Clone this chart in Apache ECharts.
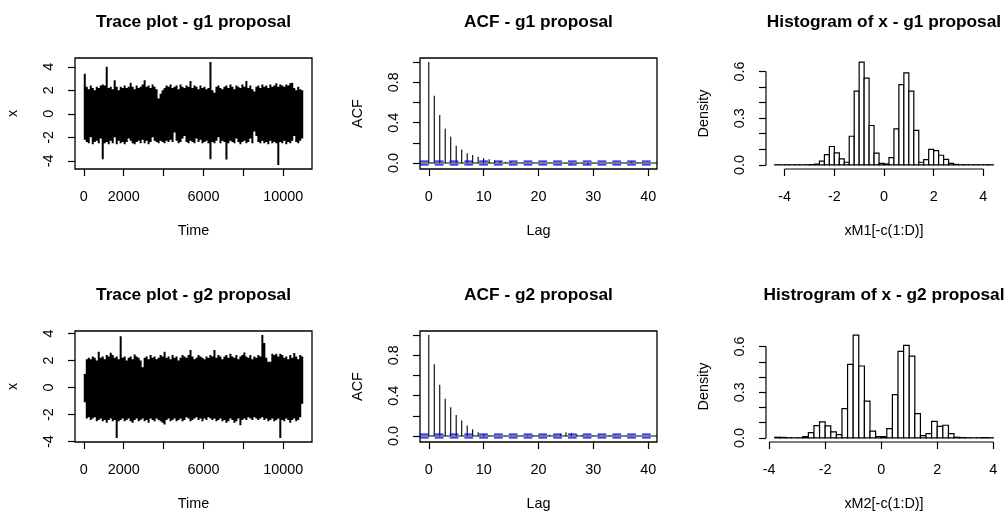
<!DOCTYPE html>
<html><head><meta charset="utf-8">
<script src="https://cdn.jsdelivr.net/npm/echarts@6/dist/echarts.min.js"></script>
<style>html,body{margin:0;padding:0;background:#fff}#c{width:1008px;height:513px}</style>
</head><body><div id="c"></div>
<script>
// ---------- data ----------
const N = 11000;          // chain length (Time 1..N)
const traceStep = 100;    // each envelope sample covers 100 iterations
// upper / lower envelope of the g1 trace, one pair per 100 iterations
const hi1 = [
 3.4,2.3,2.1,2.4,2.2,2.0,2.3,2.2,2.4,2.5,
 2.4,4.0,2.2,2.3,2.1,2.85,2.3,2.0,2.3,2.2,
 2.4,2.2,2.3,2.65,2.3,2.1,2.4,2.2,2.3,2.5,
 2.85,2.3,2.4,2.2,2.5,2.3,2.1,1.3,1.7,2.0,
 2.2,2.4,2.3,2.5,2.2,2.3,2.4,2.1,2.5,2.3,
 2.2,2.4,2.3,2.8,2.2,2.4,2.3,2.1,2.4,2.2,
 2.3,2.1,2.2,4.4,2.0,1.8,2.3,2.4,2.2,2.1,
 2.3,2.4,2.2,2.5,2.3,2.1,2.4,2.3,2.2,2.5,
 2.3,2.8,2.2,2.4,2.1,1.9,2.3,2.4,2.2,2.5,
 2.3,2.4,2.2,2.5,2.3,2.4,2.6,2.3,2.5,2.4,
 2.3,2.5,2.4,2.6,2.65,2.2,2.0,2.3,2.1,2.0];
const lo1 = [
 -2.2,-2.4,-2.5,-2.0,-2.6,-2.4,-2.3,-2.5,-2.1,-3.86,
 -2.5,-2.4,-2.6,-2.3,-2.5,-2.0,-2.6,-2.3,-2.5,-2.4,
 -2.6,-2.4,-2.1,-2.3,-2.5,-2.6,-2.4,-2.3,-2.5,-2.2,
 -2.5,-2.3,-2.6,-2.4,-2.0,-2.3,-2.4,-2.5,-2.3,-2.4,
 -2.5,-2.3,-2.4,-2.2,-2.4,-1.6,-2.3,-2.5,-2.4,-2.1,
 -1.9,-2.4,-2.5,-2.3,-2.4,-2.5,-2.1,-2.4,-2.2,-2.5,
 -2.4,-2.3,-2.5,-3.86,-2.4,-2.5,-2.3,-2.0,-2.5,-2.3,
 -2.4,-3.9,-2.5,-2.3,-2.4,-2.5,-2.1,-2.4,-2.6,-2.4,
 -2.3,-2.5,-2.4,-2.1,-2.5,-1.5,-1.9,-2.4,-2.5,-2.3,
 -2.5,-2.4,-2.6,-2.3,-2.5,-2.4,-2.5,-4.35,-2.4,-2.5,
 -2.3,-2.6,-2.4,-2.5,-2.3,-1.9,-2.4,-2.5,-2.3,-2.1];
// upper / lower envelope of the g2 trace
const hi2 = [
 1.0,2.1,2.2,2.1,2.3,2.2,2.0,2.64,2.2,2.3,
 2.1,2.4,2.3,2.57,2.4,2.2,2.3,2.1,3.8,2.2,
 2.3,2.0,2.2,2.3,2.1,2.45,2.3,2.2,2.0,1.5,
 2.2,2.3,2.1,2.4,2.2,2.3,2.1,2.2,2.4,2.3,
 2.64,2.2,2.3,2.1,2.4,2.2,2.3,2.0,2.2,2.4,
 2.3,2.2,2.4,2.77,2.3,2.1,2.2,2.4,2.3,2.2,
 2.1,2.3,2.2,2.4,2.3,2.77,2.2,2.4,2.3,2.1,
 2.3,2.4,2.2,2.5,2.3,2.2,2.4,2.1,2.3,2.4,
 2.6,2.3,2.2,2.4,2.1,2.3,2.2,2.4,2.3,3.88,
 3.3,2.2,1.9,1.9,2.5,2.4,2.5,2.3,2.5,2.4,
 2.2,2.3,2.1,2.4,2.2,2.55,2.3,2.1,2.4,2.3];
const lo2 = [
 -1.1,-2.3,-2.2,-2.4,-2.3,-2.2,-2.5,-2.4,-2.3,-2.5,
 -2.4,-2.6,-2.4,-2.3,-2.5,-2.4,-3.73,-2.5,-2.4,-2.3,
 -2.5,-2.4,-2.3,-2.5,-2.6,-2.4,-2.3,-2.5,-2.4,-2.3,
 -2.5,-2.4,-2.6,-2.3,-2.4,-2.5,-2.3,-2.4,-2.5,-2.6,
 -2.74,-2.4,-2.3,-2.5,-2.4,-2.3,-2.5,-2.4,-2.3,-2.5,
 -2.4,-2.2,-2.3,-2.5,-2.4,-2.3,-2.2,-2.4,-2.3,-2.5,
 -2.3,-2.4,-2.2,-2.3,-2.4,-2.3,-2.5,-2.4,-2.3,-2.5,
 -2.4,-2.6,-2.5,-2.3,-2.4,-2.6,-2.5,-2.3,-2.79,-2.4,
 -2.3,-2.4,-2.2,-2.3,-2.4,-2.2,-2.3,-2.4,-2.3,-2.2,
 -2.4,-2.3,-2.5,-2.4,-2.3,-2.5,-2.4,-2.3,-3.73,-2.4,
 -2.5,-2.3,-2.4,-2.6,-2.4,-2.3,-2.5,-2.4,-2.2,-1.2];
// autocorrelations, lags 0..40
const acf1 = [1.000,0.667,0.477,0.340,0.260,0.170,0.133,0.097,0.080,0.063,0.047,
 0.037,0.027,0.020,0.013,0.008,0.005,0.003,0.002,0.004,0.001,
 -0.002,0.002,0.003,-0.003,-0.004,-0.010,-0.008,-0.005,-0.015,-0.006,
 -0.003,0.002,0.001,-0.002,0.003,0.006,0.015,0.007,0.004,0.002];
const acf2 = [1.000,0.711,0.508,0.369,0.286,0.209,0.153,0.103,0.066,0.037,0.017,
 0.007,0.002,-0.003,-0.004,0.002,-0.002,0.004,0.006,0.010,0.006,
 0.004,0.012,0.008,0.020,0.035,0.030,0.015,0.010,0.006,0.004,
 0.008,0.006,0.010,0.003,0.002,-0.002,-0.004,0.002,0.001,-0.003];
const acfConf = 1.96 / Math.sqrt(N);
// histogram densities, bins of width 0.2
const binWidth = 0.2;
const hist1Start = -4.4;
const hist1Density = [0.001,0,0.001,0,0.001,0,0.001,0.002,0.005,0.024,
 0.066,0.118,0.077,0.039,0.017,0.184,0.474,0.660,0.557,0.253,
 0.075,0.010,0.006,0.047,0.231,0.516,0.591,0.474,0.221,0.017,
 0.034,0.100,0.092,0.062,0.036,0.010,0.003,0.001,0.001,0,
 0.001,0,0.001,0.001];
const hist2Start = -3.8;
const hist2Density = [0.004,0.003,0.001,0,0.001,0.008,0.035,0.081,0.105,0.079,
 0.039,0.022,0.192,0.483,0.675,0.472,0.242,0.044,0.009,0.008,
 0.061,0.284,0.568,0.607,0.537,0.159,0.015,0.028,0.109,0.076,
 0.083,0.028,0.004,0.002,0.001,0,0.001,0.002,0.001];
// ticks and labels
const traceXTicks = [0,2000,4000,6000,8000,10000];
const traceXLabels = [0,2000,6000,10000];
const traceYTicks = [-4,-2,0,2,4];
const acfXTicks = [0,10,20,30,40];
const acfYTicks = [0,0.2,0.4,0.6,0.8,1.0];
const acfYLabels = [0,0.4,0.8];
const histXTicks = [-4,-2,0,2,4];
const histYTicks = [0,0.1,0.2,0.3,0.4,0.5,0.6];
const histYLabels = [0,0.3,0.6];
const titles = ['Trace plot - g1 proposal','ACF - g1 proposal','Histogram of x - g1 proposal',
                'Trace plot - g2 proposal','ACF - g2 proposal','Histrogram of x - g2 proposal'];
const xNames = ['Time','Lag','xM1[-c(1:D)]','Time','Lag','xM2[-c(1:D)]'];
const yNames = ['x','ACF','Density','x','ACF','Density'];

// ---------- layout ----------
const FONT = '"Liberation Sans", Arial, Helvetica, sans-serif';
const colLeft = [75, 420, 766], colWidth = [237, 237, 236];
const rowTop = [58, 331], rowH = 111;
const titleY = [22, 295.5];

function ext(lo, hi){ const d = (hi - lo) * 0.04; return [lo - d, hi + d]; }
function envelopeRows(hi, lo){ return hi.map((h, i) => [1 + i * traceStep, 1 + (i + 1) * traceStep, lo[i], h]); }
function histRows(start, dens){ return dens.map((v, k) => [start + k * binWidth, start + (k + 1) * binWidth, v]); }

const traceX = ext(1, N);
const trace1Y = ext(Math.min(...lo1), Math.max(...hi1));
const trace2Y = ext(Math.min(...lo2), Math.max(...hi2));
const acfX = ext(0, 40);
const acf1Y = ext(Math.min(-acfConf, ...acf1), Math.max(acfConf, ...acf1));
const acf2Y = ext(Math.min(-acfConf, ...acf2), Math.max(acfConf, ...acf2));
const h1X = ext(hist1Start, hist1Start + hist1Density.length * binWidth);
const h2X = ext(hist2Start, hist2Start + hist2Density.length * binWidth);
const h1Y = ext(0, Math.max(...hist1Density));
const h2Y = ext(0, Math.max(...hist2Density));

const limX = [traceX, acfX, h1X, traceX, acfX, h2X];
const limY = [trace1Y, acf1Y, h1Y, trace2Y, acf2Y, h2Y];
const xt = [traceXTicks, acfXTicks, histXTicks, traceXTicks, acfXTicks, histXTicks];
const xl = [traceXLabels, acfXTicks, histXTicks, traceXLabels, acfXTicks, histXTicks];
const yt = [traceYTicks, acfYTicks, histYTicks, traceYTicks, acfYTicks, histYTicks];
const yl = [traceYTicks, acfYLabels, histYLabels, traceYTicks, acfYLabels, histYLabels];
const yFmt = [v => String(v), v => v.toFixed(1), v => v.toFixed(1), v => String(v), v => v.toFixed(1), v => v.toFixed(1)];

const grids = [], xAxes = [], yAxes = [];
for (let p = 0; p < 6; p++) {
  const r = Math.floor(p / 3), c = p % 3;
  grids.push({left: colLeft[c], top: rowTop[r], width: colWidth[c], height: rowH,
    show: c !== 2, borderColor: '#000', borderWidth: 1.3, backgroundColor: 'transparent', containLabel: false});
  const tickStyle = {show: true, length: 7, inside: false, lineStyle: {color: '#000', width: 1.2}};
  xAxes.push({type: 'value', gridIndex: p, min: limX[p][0], max: limX[p][1],
    splitLine: {show: false}, axisLine: {show: false, onZero: false},
    axisTick: Object.assign({customValues: xt[p]}, tickStyle),
    axisLabel: {customValues: xl[p], color: '#000', fontSize: 14.4, fontFamily: FONT, margin: 21.5, formatter: v => String(v)},
    name: xNames[p], nameLocation: 'middle', nameGap: 55,
    nameTextStyle: {color: '#000', fontSize: 14.4, fontFamily: FONT}});
  yAxes.push({type: 'value', gridIndex: p, min: limY[p][0], max: limY[p][1],
    splitLine: {show: false}, axisLine: {show: false, onZero: false},
    axisTick: Object.assign({customValues: yt[p]}, tickStyle),
    axisLabel: {customValues: yl[p], color: '#000', fontSize: 14.4, fontFamily: FONT, margin: 18.5, rotate: 90, formatter: yFmt[p]},
    name: yNames[p], nameLocation: 'middle', nameGap: 54.5, nameRotate: 90,
    nameTextStyle: {color: '#000', fontSize: 14.4, fontFamily: FONT}});
}

const series = [];
function seg(p, pts, color, width, type){
  series.push({type: 'line', xAxisIndex: p, yAxisIndex: p, data: pts, showSymbol: false, symbol: 'none',
    clip: false, silent: true, lineStyle: {color: color, width: width, type: type || 'solid'}, z: 5});
}
// trace plots: one solid stepped polygon between the upper and lower envelope
[[0, hi1, lo1], [3, hi2, lo2]].forEach(([p, hi, lo]) => {
  const rows = envelopeRows(hi, lo);
  series.push({type: 'custom', xAxisIndex: p, yAxisIndex: p, silent: true,
    data: rows, encode: {x: [0, 1], y: [2, 3]},
    renderItem: (params, api) => {
      if (params.dataIndex !== 0) return null;
      const pts = [];
      rows.forEach(r => { pts.push(api.coord([r[0], r[3]])); pts.push(api.coord([r[1], r[3]])); });
      rows.slice().reverse().forEach(r => { pts.push(api.coord([r[1], r[2]])); pts.push(api.coord([r[0], r[2]])); });
      return {type: 'polygon', shape: {points: pts}, style: {fill: '#000'}};
    }});
});
// ACF plots
[[1, acf1], [4, acf2]].forEach(([p, a]) => {
  series.push({type: 'custom', xAxisIndex: p, yAxisIndex: p, silent: true,
    data: a.map((v, k) => [k, v]), encode: {x: 0, y: 1},
    renderItem: (params, api) => {
      const p0 = api.coord([api.value(0), 0]), p1 = api.coord([api.value(0), api.value(1)]);
      return {type: 'line', shape: {x1: p0[0], y1: p0[1], x2: p1[0], y2: p1[1]}, style: {stroke: '#000', lineWidth: 1.1}};
    }});
  seg(p, [[acfX[0], 0], [acfX[1], 0]], '#000', 1.2);
  seg(p, [[acfX[0], acfConf], [acfX[1], acfConf]], '#0000FF', 1.3, [8.7, 6.1]);
  seg(p, [[acfX[0], -acfConf], [acfX[1], -acfConf]], '#0000FF', 1.3, [8.7, 6.1]);
});
// histograms
[[2, hist1Start, hist1Density, h1X, h1Y], [5, hist2Start, hist2Density, h2X, h2Y]].forEach(([p, s, d, lx, ly]) => {
  series.push({type: 'custom', xAxisIndex: p, yAxisIndex: p, silent: true,
    data: histRows(s, d), encode: {x: [0, 1], y: 2},
    renderItem: (params, api) => {
      const a = api.coord([api.value(0), 0]), b = api.coord([api.value(1), api.value(2)]);
      return {type: 'rect', shape: {x: a[0], y: b[1], width: b[0] - a[0], height: a[1] - b[1]},
        style: {fill: '#fff', stroke: '#000', lineWidth: 1.2}};
    }});
  seg(p, [[histXTicks[0], ly[0]], [histXTicks[histXTicks.length - 1], ly[0]]], '#000', 1.2);
  seg(p, [[lx[0], histYTicks[0]], [lx[0], histYTicks[histYTicks.length - 1]]], '#000', 1.2);
});

const chart = echarts.init(document.getElementById('c'), null, {renderer: 'canvas'});
chart.setOption({
  animation: false,
  backgroundColor: '#fff',
  title: titles.map((t, p) => ({text: t, left: colLeft[p % 3] + colWidth[p % 3] / 2, top: titleY[Math.floor(p / 3)],
    textAlign: 'center', textVerticalAlign: 'middle', padding: 0,
    textStyle: {fontSize: 17.3, fontWeight: 'bold', color: '#000', fontFamily: FONT}})),
  grid: grids, xAxis: xAxes, yAxis: yAxes, series: series
});
</script></body></html>
